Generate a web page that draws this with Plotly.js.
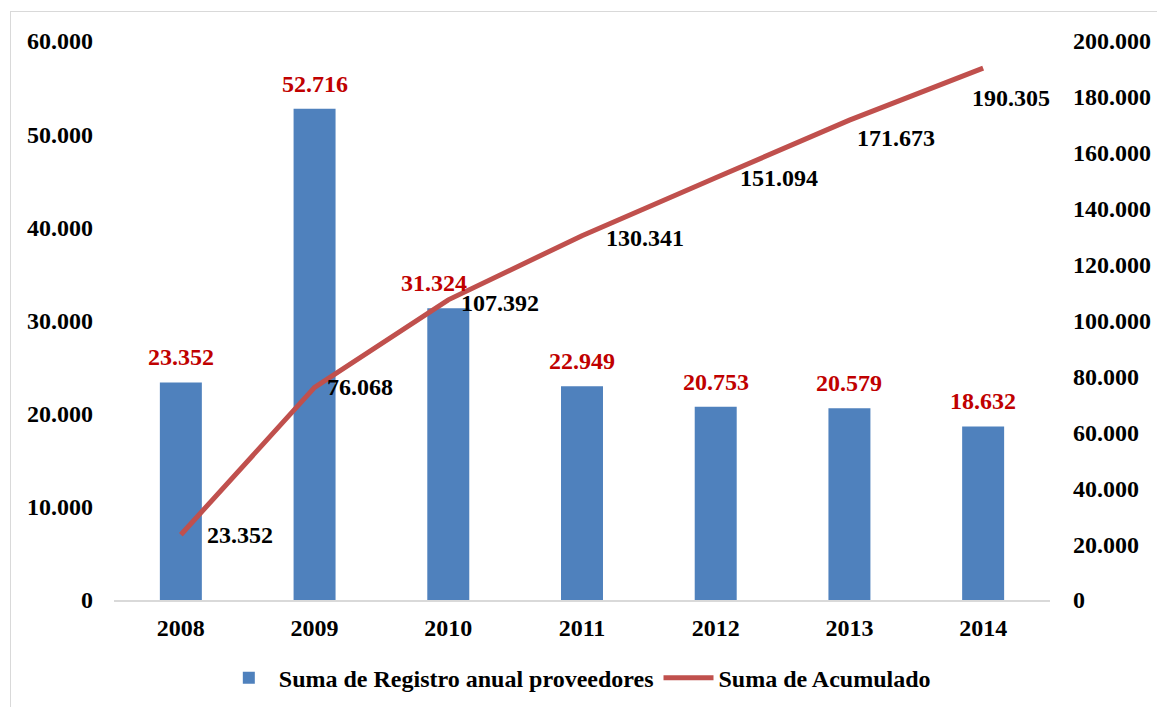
<!DOCTYPE html>
<html>
<head>
<meta charset="utf-8">
<script src="https://cdn.plot.ly/plotly-3.0.1.min.js"></script>
<style>
  html, body { margin: 0; padding: 0; background: #fff; }
  #wrap { position: relative; width: 1157px; height: 707px; }
  #chart { width: 1157px; height: 707px; }
  #frame { position: absolute; left: 10px; top: 11px; width: 1160px; height: 700px;
           border: 1px solid #d9d9d9; box-sizing: border-box; pointer-events: none; }
</style>
</head>
<body>
<div id="wrap">
  <div id="chart"></div>
  <div id="frame"></div>
</div>
<script>
const years = ['2008', '2009', '2010', '2011', '2012', '2013', '2014'];
const registroAnual = [23352, 52716, 31324, 22949, 20753, 20579, 18632];
const acumulado = [23352, 76068, 107392, 130341, 151094, 171673, 190305];
const leftTicks = [0, 10000, 20000, 30000, 40000, 50000, 60000];
const rightTicks = [0, 20000, 40000, 60000, 80000, 100000, 120000, 140000, 160000, 180000, 200000];

// label placement offsets (pixels), style only
const barLabelShiftX = [0, 0, -14, 0, 0, 0, 0];
const lineLabelShiftX = [24, 10, 11, 22, 22, 6, -13];
const lineLabelShiftY = [0, 0, -3, -2, 0, -18, -30];

const FONT = 'Liberation Serif, Times New Roman, serif';
function fmt(v) {
  return String(v).replace(/\B(?=(\d{3})+(?!\d))/g, '.');
}

const annotations = [];
for (let i = 0; i < years.length; i++) {
  annotations.push({
    x: i, y: registroAnual[i], xref: 'x', yref: 'y',
    text: '<b>' + fmt(registroAnual[i]) + '</b>', showarrow: false,
    xanchor: 'center', yanchor: 'middle', yshift: 25, xshift: barLabelShiftX[i],
    font: { family: FONT, size: 24, color: '#C00000' }
  });
  annotations.push({
    x: i, y: acumulado[i], xref: 'x', yref: 'y2',
    text: '<b>' + fmt(acumulado[i]) + '</b>', showarrow: false,
    xanchor: 'left', yanchor: 'middle', xshift: lineLabelShiftX[i], yshift: lineLabelShiftY[i],
    font: { family: FONT, size: 24, color: '#000000' }
  });
}

const data = [
  {
    type: 'bar', x: years, y: registroAnual, name: 'Suma de Registro anual proveedores',
    marker: { color: '#4F81BD' }, yaxis: 'y'
  },
  {
    type: 'scatter', mode: 'lines', x: years, y: acumulado, name: 'Suma de Acumulado',
    line: { color: '#C0504D', width: 5 }, yaxis: 'y2'
  }
];

const layout = {
  width: 1157, height: 707,
  margin: { l: 114, r: 107, t: 41, b: 107, autoexpand: false },
  paper_bgcolor: '#ffffff', plot_bgcolor: '#ffffff',
  separators: ',.',
  font: { family: FONT, size: 24, color: '#000', weight: 'bold' },
  bargap: 0.686,
  showlegend: true,
  legend: {
    orientation: 'h', x: 0.495, xanchor: 'center', y: -0.14, yanchor: 'middle',
    font: { family: FONT, size: 24, color: '#000', weight: 'bold' },
    itemwidth: 50, traceorder: 'normal'
  },
  xaxis: {
    type: 'category', range: [-0.5, 6.5], showgrid: false, zeroline: false,
    showline: true, linecolor: '#d9d9d9', linewidth: 2, ticks: '',
    ticklabelstandoff: 5,
    tickfont: { family: FONT, size: 24, color: '#000', weight: 'bold' }
  },
  yaxis: {
    range: [0, 60000], tickvals: leftTicks, tickformat: ',d',
    showgrid: false, zeroline: false, showline: false, ticks: '',
    ticklabelstandoff: 20,
    tickfont: { family: FONT, size: 24, color: '#000', weight: 'bold' }
  },
  yaxis2: {
    range: [0, 200000], tickvals: rightTicks, tickformat: ',d',
    overlaying: 'y', side: 'right',
    showgrid: false, zeroline: false, showline: false, ticks: '',
    ticklabelstandoff: 22,
    tickfont: { family: FONT, size: 24, color: '#000', weight: 'bold' }
  },
  annotations: annotations
};

Plotly.newPlot('chart', data, layout, { displayModeBar: false });
</script>
</body>
</html>
